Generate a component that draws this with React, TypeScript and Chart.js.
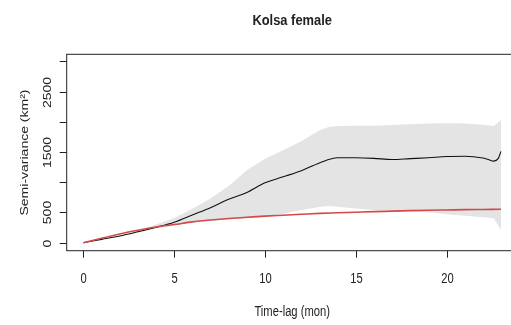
import React, { useEffect, useRef } from "react";
import { Chart, registerables } from "chart.js";

Chart.register(...registerables);

// Time lags (months) and semi-variance values (km²)
const bandLag = [0, 1, 2, 3, 4, 5, 6, 7, 8, 9, 10, 11, 12, 13, 13.5, 14, 15, 16, 17, 18, 19, 20, 21, 22, 22.6, 23];
const bandUpper = [0, 55, 115, 195, 300, 410, 560, 730, 940, 1200, 1390, 1530, 1680, 1860, 1915, 1930, 1935, 1935, 1945, 1960, 1970, 1975, 1970, 1950, 1930, 2030];
const bandLower = [0, 50, 105, 170, 235, 285, 330, 360, 385, 405, 430, 480, 540, 590, 607, 595, 565, 540, 535, 520, 500, 470, 445, 420, 405, 210];

const meanLag = [0, 1, 2, 3, 4, 5, 6, 7, 8, 9, 10, 11, 12, 13, 14, 15, 16, 17, 18, 19, 20, 21, 22, 22.3, 22.6, 22.85, 23];
const meanSemivar = [0, 55, 110, 180, 255, 340, 460, 580, 720, 830, 990, 1090, 1190, 1320, 1405, 1405, 1395, 1375, 1390, 1405, 1425, 1430, 1400, 1375, 1350, 1395, 1510];

const modelLag = [0, 1, 2, 3, 4, 5, 6, 7, 8, 9, 10, 11, 12, 13, 14, 15, 16, 17, 18, 19, 20, 21, 22, 23];
const modelSemivar = [0, 75, 145, 205, 260, 300, 345, 375, 400, 420, 440, 455, 470, 485, 495, 505, 515, 522, 530, 537, 542, 547, 550, 553];

const xTicks = [0, 5, 10, 15, 20];
const yTicks = [0, 500, 1000, 1500, 2000, 2500, 3000];
const yTickLabels = ["0", "500", "", "1500", "", "2500", ""];

const titleText = "Kolsa female";
const xTitle = "Time-lag (mon)";
const yTitle = "Semi-variance (km²)";

const FONT = "'Liberation Sans', Arial, sans-serif";
const SX = 0.8;

const pts = (xs: number[], ys: number[]) => xs.map((x, i) => ({ x, y: ys[i] }));

function text(ctx: CanvasRenderingContext2D, s: string, x: number, y: number, sx: number, rotate = false) {
  ctx.save();
  ctx.translate(x, y);
  ctx.scale(sx, 1);
  if (rotate) ctx.rotate(-Math.PI / 2);
  ctx.textAlign = "center";
  ctx.textBaseline = "alphabetic";
  ctx.fillText(s, 0, 0);
  ctx.restore();
}

const baseAxes = {
  id: "baseAxes",
  afterDraw(chart: any) {
    const { ctx, chartArea, scales } = chart;
    const xs = scales.x;
    const ys = scales.y;
    ctx.save();
    ctx.strokeStyle = "#222";
    ctx.lineWidth = 1;
    ctx.strokeRect(chartArea.left, chartArea.top, chartArea.right - chartArea.left, chartArea.bottom - chartArea.top);

    ctx.fillStyle = "#222";
    // x axis ticks and labels
    ctx.font = `14px ${FONT}`;
    xTicks.forEach((v) => {
      const px = Math.round(xs.getPixelForValue(v)) + 0.5;
      ctx.beginPath();
      ctx.moveTo(px, chartArea.bottom);
      ctx.lineTo(px, chartArea.bottom + 7);
      ctx.stroke();
      text(ctx, String(v), px, 282.5, SX);
    });
    // y axis ticks and rotated labels
    yTicks.forEach((v, i) => {
      const py = Math.round(ys.getPixelForValue(v)) + 0.5;
      ctx.beginPath();
      ctx.moveTo(chartArea.left, py);
      ctx.lineTo(chartArea.left - 7, py);
      ctx.stroke();
      if (yTickLabels[i]) text(ctx, yTickLabels[i], 50.5, py, SX, true);
    });
    // axis titles
    const cx = (chartArea.left + chartArea.right) / 2;
    const cy = (chartArea.top + chartArea.bottom) / 2;
    text(ctx, xTitle, cx, 316, SX);
    text(ctx, yTitle, 28, cy, SX, true);
    // main title
    ctx.font = `bold 15px ${FONT}`;
    text(ctx, titleText, cx, 25, 0.86);
    ctx.restore();
  },
};

export default function App() {
  const ref = useRef<HTMLCanvasElement | null>(null);

  useEffect(() => {
    if (!ref.current) return;
    const chart = new Chart(ref.current, {
      type: "line",
      data: {
        datasets: [
          {
            data: pts(bandLag, bandLower),
            borderWidth: 0,
            pointRadius: 0,
            fill: false,
          },
          {
            data: pts(bandLag, bandUpper),
            borderWidth: 0,
            pointRadius: 0,
            backgroundColor: "#e4e4e4",
            fill: "-1",
          },
          {
            data: pts(modelLag, modelSemivar),
            borderColor: "#d24a4a",
            borderWidth: 1.6,
            pointRadius: 0,
            cubicInterpolationMode: "monotone",
            fill: false,
          },
          {
            data: pts(meanLag, meanSemivar),
            borderColor: "#111",
            borderWidth: 1.1,
            pointRadius: 0,
            cubicInterpolationMode: "monotone",
            fill: false,
          },
        ],
      },
      options: {
        responsive: false,
        animation: false,
        devicePixelRatio: 1,
        layout: { padding: { left: 66.7, top: 54.3, right: 12.3, bottom: 74.3 } },
        plugins: {
          legend: { display: false },
          tooltip: { enabled: false },
          title: { display: false },
          filler: { drawTime: "beforeDatasetsDraw" },
        },
        scales: {
          x: { type: "linear", min: -0.92, max: 23.92, display: false },
          y: { type: "linear", min: -132, max: 3116, display: false },
        },
      },
      plugins: [baseAxes],
    });
    return () => chart.destroy();
  }, []);

  return (
    <div style={{ position: "fixed", left: 0, top: 0, width: 530, height: 325, background: "#fff" }}>
      <canvas ref={ref} width={530} height={325} style={{ display: "block" }} />
    </div>
  );
}
